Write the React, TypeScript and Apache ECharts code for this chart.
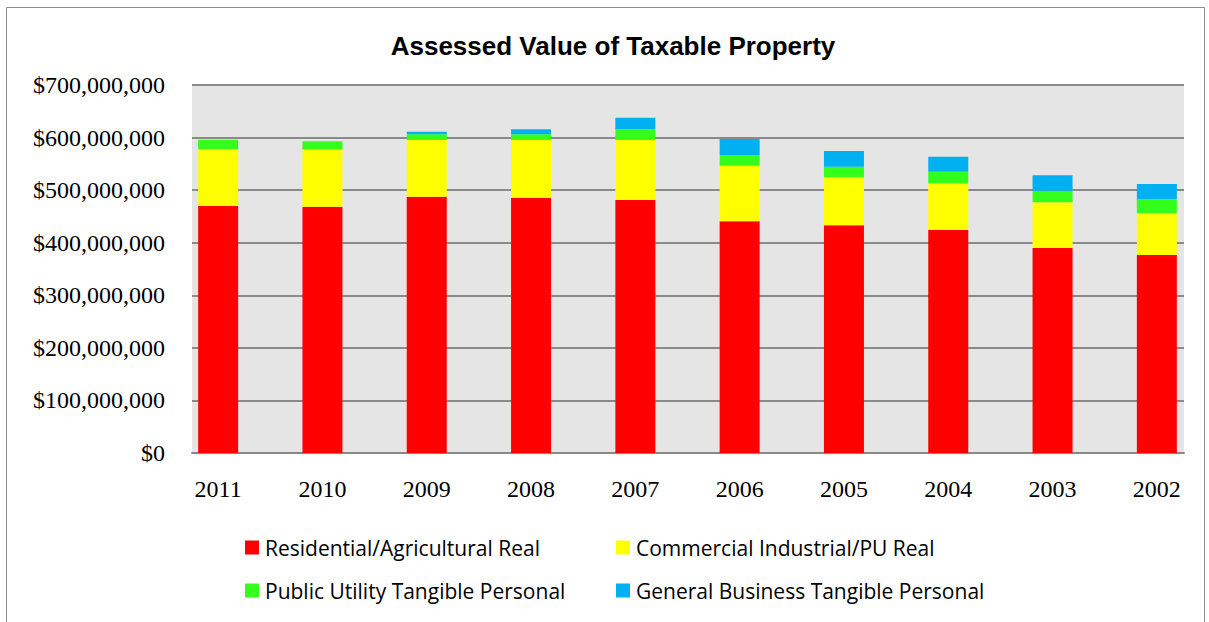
import React, { useEffect, useRef } from "react";
import * as echarts from "echarts";

const years = ["2011", "2010", "2009", "2008", "2007", "2006", "2005", "2004", "2003", "2002"];
const residential = [470, 468.5, 487.5, 485.6, 481.3, 440.7, 433.1, 424.2, 390, 376.6];
const commercial = [108, 109, 108, 109.8, 114, 105.8, 91.3, 88.8, 86.9, 79.4];
const publicUtility = [17.7, 15.3, 10.8, 10.8, 20.4, 20.4, 20.2, 22.1, 22.1, 26.6];
const generalBusiness = [0, 0, 5, 9.6, 22, 30.4, 29.9, 28.5, 29.2, 29.1];
const seriesNames = [
  "Residential/Agricultural Real",
  "Commercial Industrial/PU Real",
  "Public Utility Tangible Personal",
  "General Business Tangible Personal",
];
const colors = ["#ff0000", "#ffff00", "#33ff1a", "#00b0f0"];

const M = 1000000;

export default function App() {
  const ref = useRef<HTMLDivElement>(null);
  useEffect(() => {
    if (!ref.current) return;
    const chart = echarts.init(ref.current, null, { renderer: "svg" });
    const datasets = [residential, commercial, publicUtility, generalBusiness];
    const legendPos = [
      { left: 245, top: 537 },
      { left: 616, top: 537 },
      { left: 245, top: 580 },
      { left: 616, top: 580 },
    ];
    chart.setOption({
      animation: false,
      backgroundColor: "#ffffff",
      title: {
        text: "Assessed Value of Taxable Property",
        left: 608,
        textAlign: "center",
        top: 28,
        textStyle: { fontFamily: "Liberation Sans, Arial", fontWeight: "bold", fontSize: 26, color: "#000" },
      },
      graphic: [
        {
          type: "rect",
          shape: { x: 6.5, y: 7.5, width: 1198, height: 630 },
          style: { fill: "none", stroke: "#8c8c8c", lineWidth: 1 },
          silent: true,
        },
      ],
      legend: legendPos.map((p, i) => ({
        data: [seriesNames[i]],
        left: p.left,
        top: p.top,
        padding: 0,
        itemWidth: 14,
        itemHeight: 14,
        itemGap: 7,
        icon: "rect",
        textStyle: { fontFamily: "Open Sans", fontSize: 21, color: "#000", padding: [0, 0, 0, 1] },
      })),
      grid: [
        {
          left: 192,
          right: 25,
          top: 85,
          bottom: 169,
          show: true,
          backgroundColor: "#e5e5e5",
          borderWidth: 0,
        },
        {
          left: 166,
          width: 1044,
          top: 85,
          bottom: 169,
        },
      ],
      xAxis: [
        {
          type: "value",
          gridIndex: 0,
          min: 0,
          max: 1,
          axisLine: { show: true, lineStyle: { color: "#888888", width: 2 } },
          axisTick: { show: false },
          axisLabel: { show: false },
          splitLine: { show: false },
        },
        {
          type: "category",
          gridIndex: 1,
          data: years,
          axisLine: { show: false },
          axisTick: { show: false },
          axisLabel: { fontFamily: "Liberation Serif", fontSize: 24, color: "#000", margin: 24 },
        },
      ],
      yAxis: [
        {
          type: "value",
          gridIndex: 0,
          min: 0,
          max: 700 * M,
          interval: 100 * M,
          axisLine: { show: false },
          axisTick: { show: false },
          splitLine: { lineStyle: { color: "#8a8a8a", width: 2 } },
          axisLabel: {
            fontFamily: "Liberation Serif",
            fontSize: 24,
            color: "#000",
            margin: 27,
            formatter: (v: number) => "$" + Math.round(v).toLocaleString("en-US"),
          },
        },
        {
          type: "value",
          gridIndex: 1,
          min: 0,
          max: 700 * M,
          interval: 100 * M,
          show: false,
          splitLine: { show: false },
        },
      ],
      series: datasets.map((d, i) => ({
        name: seriesNames[i],
        type: "bar",
        stack: "total",
        xAxisIndex: 1,
        yAxisIndex: 1,
        barWidth: 40,
        itemStyle: { color: colors[i] },
        data: d.map((v) => v * M),
      })),
    });
    return () => chart.dispose();
  }, []);
  return <div ref={ref} style={{ width: 1209, height: 622, position: "absolute", left: 0, top: 0 }} />;
}
